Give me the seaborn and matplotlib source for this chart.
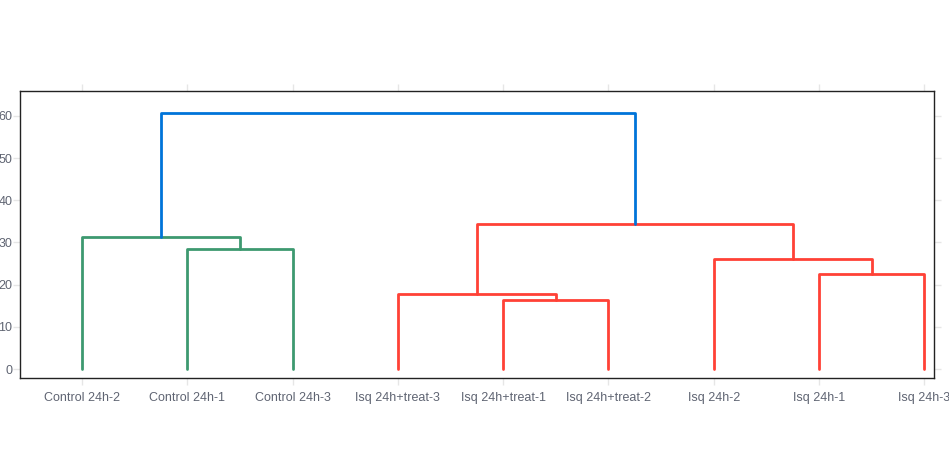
import pandas as pd
import seaborn as sns
import matplotlib.pyplot as plt

sns.set_style("white")
plt.rcParams["font.family"] = ["Liberation Sans", "DejaVu Sans"]

# ---------- Data ------------------------------------------------- #
leaf_labels = ["Control 24h-2", "Control 24h-1", "Control 24h-3",
               "Isq 24h+treat-3", "Isq 24h+treat-1", "Isq 24h+treat-2",
               "Isq 24h-2", "Isq 24h-1", "Isq 24h-3"]

# merges: node ids 0-8 are leaves, 9+ are clusters in merge order
merge_left   = [1, 4, 7, 3, 6, 0, 12, 14]
merge_right  = [2, 5, 8, 10, 11, 9, 13, 15]
merge_height = [28.4, 16.3, 22.65, 17.8, 26.0, 31.2, 34.4, 60.7]
merge_group  = ["Control", "Isq", "Isq", "Isq", "Isq", "Control", "Isq", "root"]

palette = {"Control": "#3D9970", "Isq": "#FF4136", "root": "#0074D9"}

# ---------- Build link segments ---------------------------------- #
node_x = [5 + 10 * i for i in range(len(leaf_labels))]
node_y = [0.0] * len(leaf_labels)
rows = []
for k, (a, b, h, g) in enumerate(zip(merge_left, merge_right, merge_height, merge_group)):
    pts = [(node_x[a], node_y[a]), (node_x[a], h), (node_x[b], h), (node_x[b], node_y[b])]
    for order, (x, y) in enumerate(pts):
        rows.append({"link": k, "order": order, "x": x, "y": y, "group": g})
    node_x.append((node_x[a] + node_x[b]) / 2)
    node_y.append(h)
seg_df = pd.DataFrame(rows)

# ---------- Plot -------------------------------------------------- #
fig = plt.figure(figsize=(9.49, 4.5), dpi=100)
ax = fig.add_axes([0.021, 0.16, 0.963, 0.637])

sns.lineplot(data=seg_df, x="x", y="y", units="link", hue="group",
             estimator=None, sort=False, palette=palette, linewidth=2,
             legend=False, ax=ax)

ax.set_xlim(-0.9, 85.9)
ax.set_ylim(-2.1, 65.8)
ax.set_xticks(node_x[:len(leaf_labels)])
ax.set_xticklabels(leaf_labels)
ax.set_yticks(range(0, 61, 10))
ax.set_xlabel(""); ax.set_ylabel("")

for sp in ax.spines.values():
    sp.set_visible(True)
    sp.set_color("#222222")
    sp.set_linewidth(1)

ax.tick_params(axis="both", which="both", direction="out", length=5, width=1,
               color="#e6e6e6", labelcolor="#5f6472", labelsize=9,
               top=True, right=True, bottom=True, left=True,
               labeltop=False, labelright=False)
ax.tick_params(axis="x", pad=5)
ax.tick_params(axis="y", pad=0.5)

fig.savefig("out.png", dpi=100)
